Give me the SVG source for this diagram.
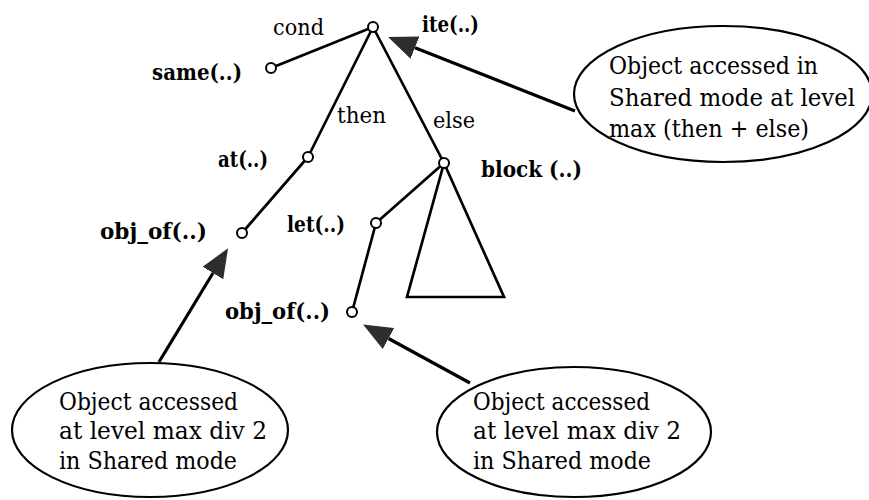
<svg xmlns="http://www.w3.org/2000/svg" width="869" height="500" viewBox="0 0 869 500">
  <defs>
    <style>
      .edge { stroke: #000; stroke-width: 2.7; fill: none; stroke-linecap: round; }
      .node { fill: #fff; stroke: #000; stroke-width: 2; }
      .arrow { stroke: #000; stroke-width: 3.2; fill: none; marker-end: url(#head); }
      .note { fill: #fff; stroke: #000; stroke-width: 2.2; }
      .lbl { font-family: "DejaVu Serif", "Liberation Serif", serif; font-size: 22px; font-weight: bold; fill: #000; }
      .elbl { font-family: "DejaVu Serif", "Liberation Serif", serif; font-size: 22px; fill: #000; }
      .ntxt { font-family: "DejaVu Serif", "Liberation Serif", serif; font-size: 24px; fill: #000; }
    </style>
    <!-- filled triangular arrowhead, starts at the end of the line -->
    <marker id="head" viewBox="0 0 29 24" refX="0" refY="12" markerWidth="29" markerHeight="24" markerUnits="userSpaceOnUse" orient="auto">
      <path d="M0,0 L29,12 L0,24 Z" fill="#2e2e2e"/>
    </marker>
  </defs>
  <rect width="869" height="500" fill="#fff"/>

  <!-- tree edges and annotation arrows -->
  <g id="connectors">
    <line class="edge" x1="373" y1="27" x2="271" y2="68"/>
    <line class="edge" x1="373" y1="27" x2="308" y2="157"/>
    <line class="edge" x1="373" y1="27" x2="444" y2="163"/>
    <line class="edge" x1="308" y1="157" x2="242" y2="233"/>
    <line class="edge" x1="444" y1="163" x2="376" y2="223"/>
    <line class="edge" x1="376" y1="223" x2="352" y2="312"/>
    <!-- subtree of block -->
    <polyline class="edge" points="444,163 407,297 504,297 444,163" stroke-linejoin="miter"/>
    <line class="arrow" x1="575" y1="111" x2="415" y2="47.7"/>
    <line class="arrow" x1="159" y1="362" x2="213" y2="273"/>
    <line class="arrow" x1="470" y1="383" x2="388.5" y2="338.5"/>
  </g>

  <!-- edge labels -->
  <g id="edge-labels">
    <text class="elbl" x="273" y="35" textLength="51" lengthAdjust="spacingAndGlyphs">cond</text>
    <text class="elbl" x="337" y="123" textLength="49" lengthAdjust="spacingAndGlyphs">then</text>
    <text class="elbl" x="433" y="128" textLength="42" lengthAdjust="spacingAndGlyphs">else</text>
  </g>

  <g id="ite">
    <circle class="node" cx="373" cy="27" r="5"/>
    <text class="lbl" x="422" y="32" textLength="57" lengthAdjust="spacingAndGlyphs">ite(..)</text>
  </g>
  <g id="same">
    <circle class="node" cx="271" cy="68" r="5"/>
    <text class="lbl" x="152" y="80" textLength="90" lengthAdjust="spacingAndGlyphs">same(..)</text>
  </g>
  <g id="at">
    <circle class="node" cx="308" cy="157" r="5"/>
    <text class="lbl" x="218" y="167" textLength="50" lengthAdjust="spacingAndGlyphs">at(..)</text>
  </g>
  <g id="block">
    <circle class="node" cx="444" cy="163" r="5"/>
    <text class="lbl" x="481" y="177" textLength="101" lengthAdjust="spacingAndGlyphs">block (..)</text>
  </g>
  <g id="obj_of_then">
    <circle class="node" cx="242" cy="233" r="5"/>
    <text class="lbl" x="100" y="239" textLength="107" lengthAdjust="spacingAndGlyphs">obj_of(..)</text>
  </g>
  <g id="let">
    <circle class="node" cx="376" cy="223" r="5"/>
    <text class="lbl" x="287" y="232" textLength="58" lengthAdjust="spacingAndGlyphs">let(..)</text>
  </g>
  <g id="obj_of_else">
    <circle class="node" cx="352" cy="312" r="5"/>
    <text class="lbl" x="225" y="319" textLength="105" lengthAdjust="spacingAndGlyphs">obj_of(..)</text>
  </g>

  <g id="note-ite">
    <ellipse class="note" cx="723" cy="94" rx="149" ry="68"/>
    <text class="ntxt" x="609" y="74" textLength="209" lengthAdjust="spacingAndGlyphs">Object accessed in</text>
    <text class="ntxt" x="609" y="106" textLength="246" lengthAdjust="spacingAndGlyphs">Shared mode at level</text>
    <text class="ntxt" x="609" y="137" textLength="200" lengthAdjust="spacingAndGlyphs">max (then + else)</text>
  </g>
  <g id="note-then">
    <ellipse class="note" cx="150" cy="430" rx="138" ry="67"/>
    <text class="ntxt" x="59" y="410" textLength="179" lengthAdjust="spacingAndGlyphs">Object accessed</text>
    <text class="ntxt" x="59" y="439" textLength="208" lengthAdjust="spacingAndGlyphs">at level max div 2</text>
    <text class="ntxt" x="59" y="469" textLength="178" lengthAdjust="spacingAndGlyphs">in Shared mode</text>
  </g>
  <g id="note-else">
    <ellipse class="note" cx="574" cy="432" rx="137" ry="65"/>
    <text class="ntxt" x="473" y="410" textLength="177" lengthAdjust="spacingAndGlyphs">Object accessed</text>
    <text class="ntxt" x="473" y="439" textLength="208" lengthAdjust="spacingAndGlyphs">at level max div 2</text>
    <text class="ntxt" x="473" y="469" textLength="178" lengthAdjust="spacingAndGlyphs">in Shared mode</text>
  </g>
</svg>
